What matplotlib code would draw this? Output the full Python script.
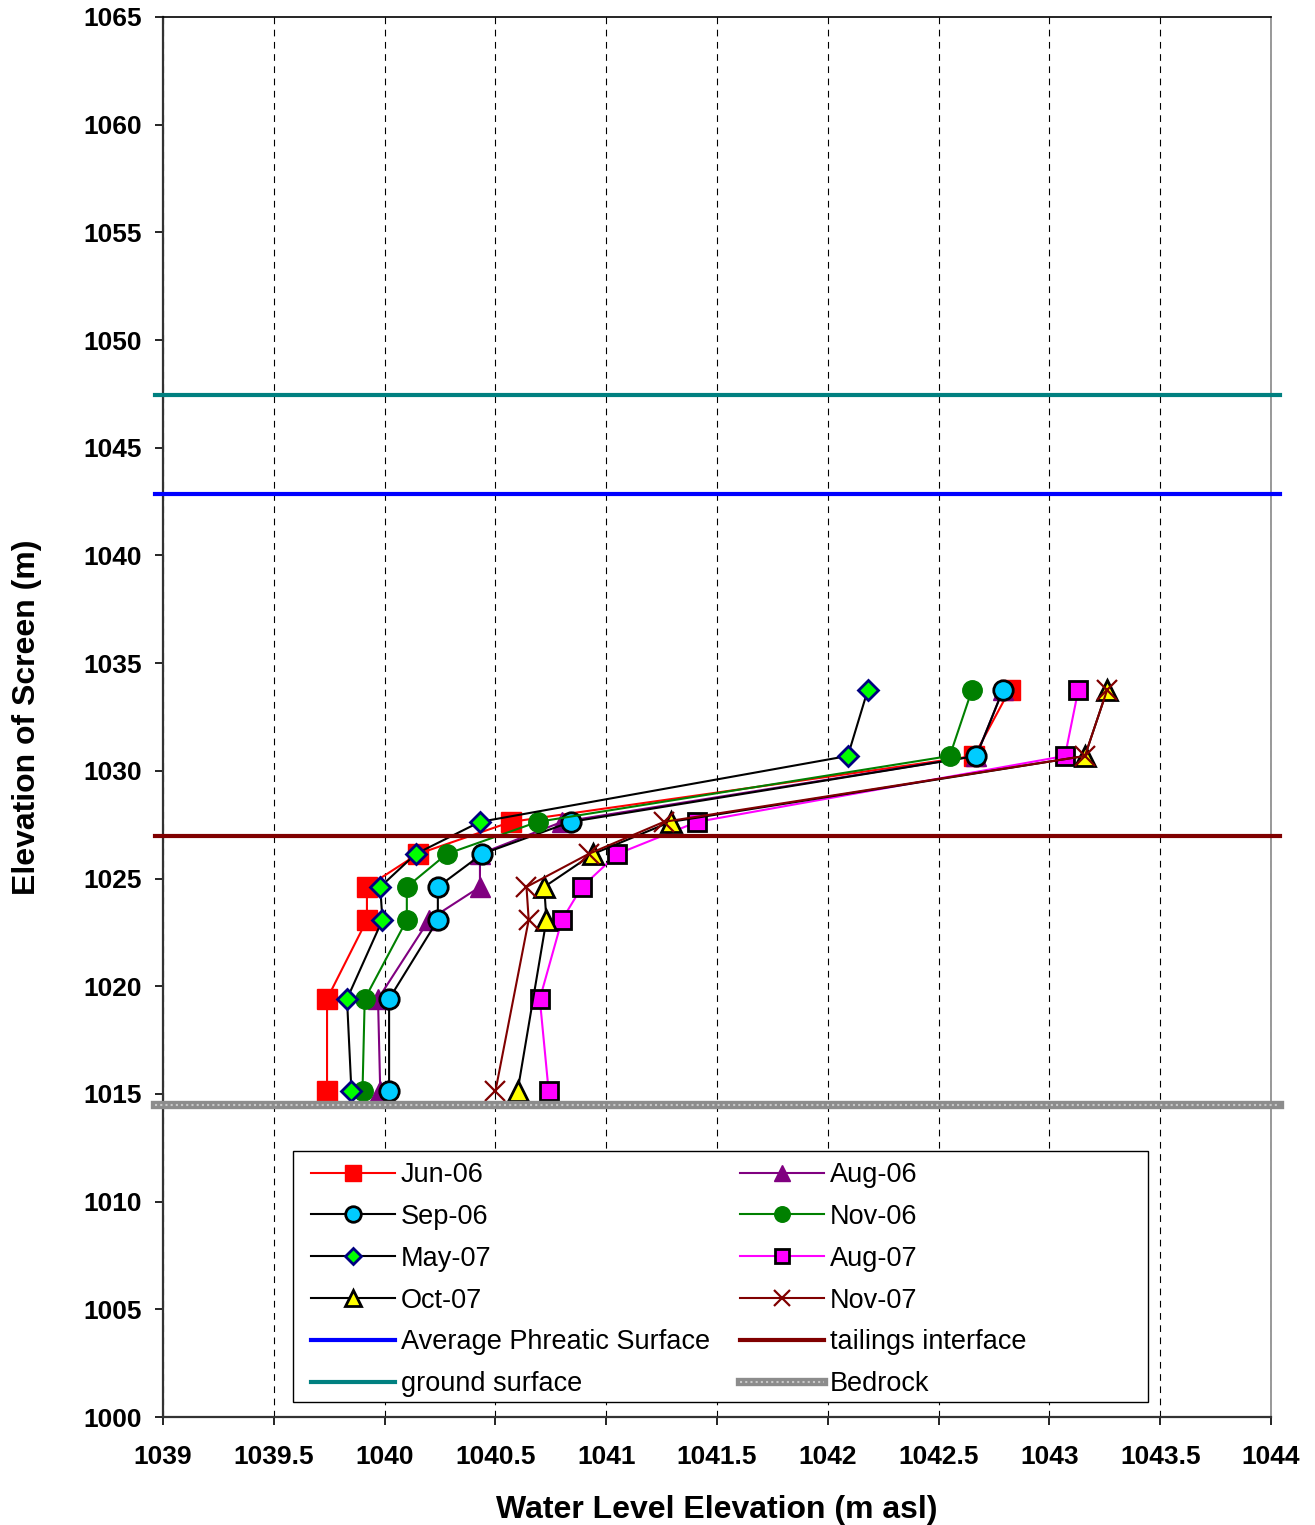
import matplotlib
matplotlib.use("Agg")
import matplotlib.pyplot as plt
from matplotlib.ticker import MultipleLocator, FormatStrFormatter
from matplotlib.patches import Rectangle
import numpy as np

plt.rcParams['font.family'] = ['Liberation Sans', 'DejaVu Sans']

# screen elevations (m) - y values shared by all surveys
elev = [1033.75, 1030.69, 1027.63, 1026.14, 1024.61, 1023.08, 1019.41, 1015.14]

# water level elevations (m asl) per survey, nan = no reading
jun06 = [1042.82, 1042.66, 1040.57, 1040.15, 1039.92, 1039.92, 1039.74, 1039.74]
aug06 = [1042.79, 1042.67, 1040.80, 1040.43, 1040.43, 1040.20, 1039.97, 1039.98]
sep06 = [1042.79, 1042.67, 1040.84, 1040.44, 1040.24, 1040.24, 1040.02, 1040.02]
nov06 = [1042.65, 1042.55, 1040.69, 1040.28, 1040.10, 1040.10, 1039.91, 1039.90]
may07 = [1042.18, 1042.09, 1040.43, 1040.14, 1039.98, 1039.99, 1039.83, 1039.85]
aug07 = [1043.13, 1043.07, 1041.41, 1041.05, 1040.89, 1040.80, 1040.70, 1040.74]
oct07 = [1043.26, 1043.16, 1041.29, 1040.94, 1040.72, 1040.73, np.nan, 1040.60]
nov07 = [1043.26, 1043.16, 1041.26, 1040.92, 1040.64, 1040.65, np.nan, 1040.50]

# reference levels
phreatic = 1042.86
tailings = 1026.98
ground = 1047.45
bedrock = 1014.49

fig = plt.figure(figsize=(13.15, 15.25), dpi=100)
ax = fig.add_axes([0.124, 0.0708, 0.8426, 0.9181])

series = [
    ("Jun-06", jun06, dict(color="red", marker="s", ms=14, mfc="red", mec="red")),
    ("Aug-06", aug06, dict(color="#800080", marker="^", ms=14, mfc="#800080", mec="#800080")),
    ("Sep-06", sep06, dict(color="black", marker="o", ms=14, mfc="#00CCFF", mec="black", mew=2)),
    ("Nov-06", nov06, dict(color="#008000", marker="o", ms=14, mfc="#008000", mec="#008000")),
    ("May-07", may07, dict(color="black", marker="D", ms=10, mfc="#00FF00", mec="#000080", mew=2)),
    ("Aug-07", aug07, dict(color="#FF00FF", marker="s", ms=13, mfc="#FF00FF", mec="black", mew=2)),
    ("Oct-07", oct07, dict(color="black", marker="^", ms=14, mfc="#FFFF00", mec="black", mew=2)),
    ("Nov-07", nov07, dict(color="#800000", marker="x", ms=14, mew=1.6)),
]

handles = {}
for name, xs, style in series:
    xs = np.array(xs)
    ys = np.array(elev)
    ok = ~np.isnan(xs)
    h, = ax.plot(xs[ok], ys[ok], lw=1.5, label=name, zorder=3, **style)
    handles[name] = h

# horizontal reference lines, run a bit past the axes like the original
xl = [1038.965, 1044.04]
handles["Average Phreatic Surface"], = ax.plot(xl, [phreatic] * 2, color="#0000FF", lw=3, clip_on=False, zorder=4)
handles["tailings interface"], = ax.plot(xl, [tailings] * 2, color="#800000", lw=3, clip_on=False, zorder=4)
handles["ground surface"], = ax.plot(xl, [ground] * 2, color="#008080", lw=3, clip_on=False, zorder=4)
b1, = ax.plot(xl, [bedrock] * 2, color="#8c8c8c", lw=6, clip_on=False, zorder=4)
b2, = ax.plot(xl, [bedrock] * 2, color="#c8c8c8", lw=1.5, ls=(0, (1, 1.5)), clip_on=False, zorder=4)
handles["Bedrock"] = (b1, b2)

ax.set_xlim(1039, 1044)
ax.set_ylim(1000, 1065)
ax.xaxis.set_major_locator(MultipleLocator(0.5))
ax.yaxis.set_major_locator(MultipleLocator(5))
ax.xaxis.set_major_formatter(FormatStrFormatter('%g'))
ax.grid(axis="x", color="black", lw=0.8, ls=(0, (6, 5)))
ax.tick_params(direction="out", length=6, width=1.2, labelsize=19)
ax.tick_params(axis="x", pad=14)
ax.tick_params(axis="y", pad=9)
for lab in ax.get_xticklabels() + ax.get_yticklabels():
    lab.set_fontweight("bold")

for s in ["left", "bottom"]:
    ax.spines[s].set_linewidth(1.6)
    ax.spines[s].set_color("#333333")
ax.spines["top"].set_linewidth(1.2)
ax.spines["right"].set_color("#888888")
ax.spines["right"].set_linewidth(1.2)

ax.set_xlabel("Water Level Elevation (m asl)", fontsize=23, fontweight="bold")
ax.set_ylabel("Elevation of Screen (m)", fontsize=23, fontweight="bold")
ax.xaxis.set_label_coords(0.5, -0.056)
ax.yaxis.set_label_coords(-0.109, 0.5)

# legend frame drawn separately so it can be wider than its entries
ax.add_patch(Rectangle((0.1173, 0.0107), 0.7717, 0.1793, transform=ax.transAxes,
                       facecolor="white", edgecolor="black", lw=1.0, zorder=5))

order = ["Jun-06", "Sep-06", "May-07", "Oct-07", "Average Phreatic Surface", "ground surface",
         "Aug-06", "Nov-06", "Aug-07", "Nov-07", "tailings interface", "Bedrock"]
leg = ax.legend([handles[k] for k in order], order, ncol=2, loc="upper left",
                bbox_to_anchor=(0.1335, 0.1821), frameon=False,
                fontsize=19.5, handlelength=3.1, handletextpad=0.22, labelspacing=0.585,
                columnspacing=1.1, borderpad=0, borderaxespad=0, markerscale=0.8)
leg.set_zorder(6)

fig.savefig("out.png", dpi=100)
